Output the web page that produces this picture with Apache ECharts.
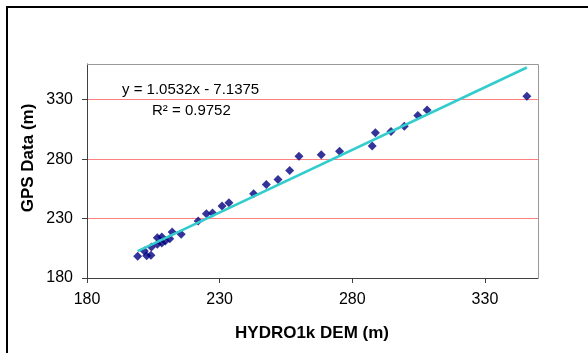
<!DOCTYPE html>
<html>
<head>
<meta charset="utf-8">
<script src="https://cdn.jsdelivr.net/npm/echarts@6/dist/echarts.min.js"></script>
<style>
html,body{margin:0;padding:0;background:#fff;}
#chart{width:588px;height:353px;}
</style>
</head>
<body>
<div id="chart"></div>
<script>
// HYDRO1k DEM elevation (m)
var demValues = [199.1, 201.6, 202.5, 204.1, 204.3, 206.5, 206.5, 208.2, 208.2, 209.5,
  211.2, 212.1, 215.5, 221.9, 225.0, 227.3, 230.9, 233.5, 242.8, 247.6,
  252.0, 256.4, 259.9, 268.3, 275.2, 287.5, 288.7, 294.6, 299.6, 304.7,
  308.2, 345.8];
// GPS elevation (m)
var gpsValues = [198.2, 202.7, 198.8, 199.1, 206.1, 213.9, 208.3, 214.5, 209.4, 211.1,
  213.1, 218.6, 216.7, 227.9, 234.0, 234.6, 240.5, 243.3, 250.8, 258.7,
  262.9, 270.4, 282.5, 283.6, 286.7, 291.1, 302.1, 303.2, 307.6, 316.6,
  321.4, 332.8];
var trendSlope = 1.0532;
var trendIntercept = -7.1375;
var equationText = 'y = 1.0532x - 7.1375';
var r2Text = 'R² = 0.9752';
var xTitle = 'HYDRO1k DEM (m)';
var yTitle = 'GPS Data (m)';

var points = demValues.map(function (x, i) { return [x, gpsValues[i]]; });
var xMin = Math.min.apply(null, demValues);
var xMax = Math.max.apply(null, demValues);
var trend = [[xMin, trendSlope * xMin + trendIntercept], [xMax, trendSlope * xMax + trendIntercept]];

var FONT = '"Liberation Sans", Arial, sans-serif';
var chart = echarts.init(document.getElementById('chart'), null, {renderer: 'canvas'});
chart.setOption({
  animation: false,
  backgroundColor: '#fff',
  grid: {left: 87, right: 50, top: 64, bottom: 75, show: true, backgroundColor: '#fff', borderWidth: 0},
  xAxis: {
    type: 'value', min: 180, max: 350, interval: 50,
    axisLine: {show: true, lineStyle: {color: '#404040', width: 1}},
    axisTick: {show: true, inside: false, length: 5, lineStyle: {color: '#404040'}},
    axisLabel: {fontFamily: FONT, fontSize: 16, color: '#000', margin: 14, showMaxLabel: false},
    splitLine: {show: false}
  },
  yAxis: {
    type: 'value', min: 180, max: 360, interval: 50,
    axisLine: {show: true, lineStyle: {color: '#404040', width: 1}},
    axisTick: {show: true, inside: false, length: 5, lineStyle: {color: '#404040'}},
    axisLabel: {fontFamily: FONT, fontSize: 16, color: '#000', margin: 14, showMaxLabel: false},
    splitLine: {show: true, lineStyle: {color: '#FF8080', width: 1}}
  },
  series: [
    {
      type: 'scatter', data: points, symbol: 'diamond', symbolSize: 9,
      itemStyle: {color: '#000080'}, z: 3
    },
    {
      type: 'line', data: trend, showSymbol: false, symbol: 'none',
      lineStyle: {color: '#33CCCC', width: 2.5}, z: 4
    }
  ],
  graphic: [
    {type: 'rect', shape: {x: 7, y: 7, width: 620, height: 400}, style: {fill: 'none', stroke: '#000', lineWidth: 2}, z: 100},
    {type: 'polyline', shape: {points: [[87, 64.5], [538.5, 64.5], [538.5, 278]]}, style: {fill: 'none', stroke: '#999', lineWidth: 1}, z: 100},
    {type: 'text', x: 122, y: 90, style: {text: equationText, font: '15px ' + FONT, fill: '#000', textVerticalAlign: 'middle'}, z: 100},
    {type: 'text', x: 152, y: 111, style: {text: r2Text, font: '15px ' + FONT, fill: '#000', textVerticalAlign: 'middle'}, z: 100},
    {type: 'text', x: 312, y: 333, style: {text: xTitle, font: 'bold 17px ' + FONT, fill: '#000', textAlign: 'center', textVerticalAlign: 'middle'}, z: 100},
    {type: 'text', x: 28, y: 158, rotation: Math.PI / 2, style: {text: yTitle, font: 'bold 17px ' + FONT, fill: '#000', textAlign: 'center', textVerticalAlign: 'middle'}, z: 100}
  ]
});
</script>
</body>
</html>
